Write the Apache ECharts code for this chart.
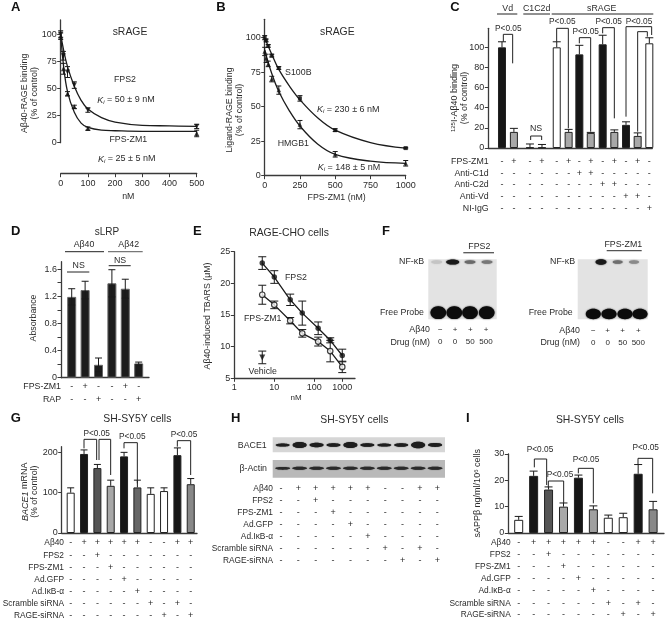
<!DOCTYPE html>
<html><head><meta charset="utf-8">
<style>html,body{margin:0;padding:0;background:#fff}#c{width:665px;height:627px;filter:blur(0.35px)}</style>
<script src="https://cdn.jsdelivr.net/npm/echarts@6/dist/echarts.min.js"></script>
</head><body><div id="c"></div>
<script>
/* ---------- data ---------- */
// A
const aX = [0, 10, 25, 50, 100, 500];
const aFps2 = [100, 80, 65, 53, 30, 15];
const aFps2Err = [3, 4, 5, 3, 2, 2];
const aZm1 = [98, 68, 45, 33, 13, 8.5];
const aZm1Err = [3, 5, 2, 1.5, 1.5, 3];
const aFps2CurveX = [0, 10, 25, 50, 75, 100, 150, 200, 300, 400, 500];
const aFps2CurveY = [100, 86, 70, 52, 39, 31, 23, 19, 16, 15.5, 15];
const aZm1CurveX = [0, 10, 25, 50, 75, 100, 150, 200, 300, 500];
const aZm1CurveY = [100, 72, 47, 28, 18, 14, 11.5, 11, 10.5, 10.5];
// B
const bX = [0, 10, 25, 50, 100, 250, 500, 1000];
const bS100 = [100, 98, 94, 87, 78, 56, 33, 20];
const bS100Err = [1.5, 1, 1, 1, 1, 2, 1, 0.5];
const bHmgb = [90, 85, 81, 70, 62, 37, 15.5, 9];
const bHmgbErr = [3, 3, 2, 2, 3, 3, 2, 2];
const bS100CurveX = [0, 50, 100, 175, 250, 375, 500, 750, 1000];
const bS100CurveY = [100, 88, 77, 65, 55, 42, 33, 24, 20];
const bHmgbCurveX = [0, 50, 100, 175, 250, 375, 500, 750, 1000];
const bHmgbCurveY = [91, 74, 61, 47, 36, 23, 15.5, 10.5, 9];
// C
const cSlots = [0, 1, 2.35, 3.36, 4.6, 5.6, 6.5, 7.46, 8.46, 9.44, 10.42, 11.4, 12.38];
const cVals = [100, 16, 0.5, 0.5, 100, 16, 93, 15, 103, 16, 23, 12, 104];
const cErr = [5.5, 3.5, 3.5, 3, 5.5, 2.5, 9, 0.5, 9, 2, 3, 3, 5.5];
const cKinds = ['k', 'g', 'k', 'k', 'w', 'g', 'k', 'g', 'k', 'g', 'k', 'g', 'w'];
const cRowLabels = ['FPS-ZM1', 'Anti-C1d', 'Anti-C2d', 'Anti-Vd', 'NI-IgG'];
const cRows = ['-+-+-+-+-+-+-', '------++-----', '--------++---', '----------++-', '------------+'];
// D
const dVals = [1.19, 1.29, 0.19, 1.39, 1.31, 0.21];
const dErr = [0.12, 0.13, 0.1, 0.2, 0.14, 0.02];
const dRowLabels = ['FPS-ZM1', 'RAP'];
const dRows = ['-+--+-', '--+--+'];
// E
const eX = [5, 10, 25, 50, 125, 250, 500];
const eFps2 = [23.2, 21, 17.4, 15.3, 12.9, 11, 8.6];
const eFps2Err = [1, 1, 0.9, 1.9, 1, 0.4, 1];
const eZm1 = [18.2, 16.6, 14.1, 12.1, 10.8, 9.3, 6.8];
const eZm1Err = [1.5, 0.6, 0.5, 0.6, 0.7, 1.7, 0.9];
const eVehicleX = [5];
const eVehicle = [8.3];
const eVehicleErr = [1];
const eTicks = [1, 10, 100, 500];
const eTickLabels = ['1', '10', '100', '1000'];
// G, H, I sign table
const siLabels = ['A\u03b240', 'FPS2', 'FPS-ZM1', 'Ad.GFP', 'Ad.I\u03baB-\u03b1', 'Scramble siRNA', 'RAGE-siRNA'];
const siRows = ['-+++++--++', '--+-------', '---+------', '----+-----', '-----+----', '------+-+-', '-------+-+'];
// G
const gVals = [100, 196, 161, 117, 190, 113, 97, 104, 193, 121];
const gErr = [12, 10, 9, 14, 10, 18, 15, 8, 18, 14];
const gFill = ['#ffffff', '#161616', '#555555', '#a8a8a8', '#161616', '#666666', '#ffffff', '#ffffff', '#161616', '#888888'];
// I
const iVals = [5, 21.7, 16.5, 10, 21, 9, 5.8, 6, 22.5, 9];
const iErr = [1.3, 1.8, 1, 1.4, 1, 1.3, 1, 1.5, 3.5, 3];
const iFill = ['#ffffff', '#161616', '#555555', '#a8a8a8', '#161616', '#a0a0a0', '#ffffff', '#ffffff', '#161616', '#888888'];
// H and F band strengths (half-height of each band, and tone)
const hBace = [1.6, 3, 2.2, 1.8, 3, 1.8, 1.6, 1.8, 3.2, 1.9];
const hActin = [1.4, 1.5, 1.5, 1.5, 1.5, 1.5, 1.5, 1.5, 1.5, 1.5];
const fLeftTone = ['#c4c4c4', '#1a1a1a', '#6a6a6a', '#777777'];
const fRightTone = ['#1a1a1a', '#6e6e6e', '#8a8a8a'];

/* ---------- shared style ---------- */
const ink = '#2b2b2b', axisInk = '#3a3a3a', FF = '"Liberation Sans"';
const plain = v => String(v);
const axisBase = (o) => Object.assign({
  type: 'value', scale: false, splitLine: { show: false },
  axisLine: { show: true, onZero: false, lineStyle: { color: axisInk, width: 1.3 } },
  axisTick: { show: true, length: 3.5, lineStyle: { color: axisInk, width: 1 } },
  axisLabel: { show: true, fontFamily: FF, fontSize: 9, color: ink, margin: 3, formatter: plain }
}, o);
const flatX = (min, max) => axisBase({ min, max, axisTick: { show: false }, axisLabel: { show: false } });
const yTicks = (min, max, values, extra) => {
  const y = axisBase({ min, max });
  y.axisTick = Object.assign({}, y.axisTick, { customValues: values });
  y.axisLabel = Object.assign({}, y.axisLabel, { customValues: values, margin: 4 });
  return Object.assign(y, extra || {});
};

const grids = [
  { left: 60.7, top: 20, width: 136, height: 122.7 },   // A
  { left: 264.7, top: 19.3, width: 141, height: 156.4 },// B
  { left: 488.3, top: 28.3, width: 164, height: 119.7 },// C
  { left: 61, top: 261.7, width: 88, height: 116 },     // D
  { left: 234.3, top: 251.7, width: 120.7, height: 126.6 }, // E
  { left: 61.7, top: 446.7, width: 135.3, height: 86.3 },   // G
  { left: 508.3, top: 454, width: 155.7, height: 79 }       // I
];
const [A, B, C, D, E, G, I] = [0, 1, 2, 3, 4, 5, 6];
const xLabel = { fontFamily: FF, fontSize: 9, color: ink, margin: 5, formatter: plain };

const xAxes = [
  axisBase({ gridIndex: A, min: 0, max: 500, interval: 100, offset: 31, axisLabel: xLabel }),
  axisBase({ gridIndex: B, min: 0, max: 1000, interval: 250, axisLabel: xLabel }),
  Object.assign(flatX(-1.151, 12.63), { gridIndex: C }),
  Object.assign(flatX(-0.8, 5.77), { gridIndex: D }),
  axisBase({ gridIndex: E, type: 'log', logBase: 10, min: 1, max: 1041,
    axisTick: { show: true, length: 3.5, customValues: eTicks, lineStyle: { color: axisInk } },
    axisLabel: { fontFamily: FF, fontSize: 9, color: ink, margin: 5, customValues: eTicks,
      formatter: v => eTickLabels[eTicks.indexOf(Math.round(v))] || '' } }),
  Object.assign(flatX(-0.675, 9.47), { gridIndex: G }),
  Object.assign(flatX(-0.696, 9.73), { gridIndex: I })
];
const yAxes = [
  yTicks(0, 112.9, [0, 25, 50, 75, 100], { gridIndex: A }),
  yTicks(0, 113.3, [0, 25, 50, 75, 100], { gridIndex: B }),
  yTicks(0, 118.9, [0, 20, 40, 60, 80, 100], { gridIndex: C }),
  yTicks(0, 1.708, [0, 0.2, 0.4, 0.6, 0.8, 1, 1.2, 1.4, 1.6], { gridIndex: D }),
  yTicks(5, 25, [5, 10, 15, 20, 25], { gridIndex: E }),
  yTicks(0, 214, [0, 100, 200], { gridIndex: G }),
  yTicks(0, 30, [0, 10, 20, 30], { gridIndex: I })
];
yAxes[D].axisLabel.customValues = [0, 0.4, 0.8, 1.2, 1.6];

/* ---------- series builders ---------- */
const zip = (xs, ys) => xs.map((x, i) => [x, ys[i]]);
const curve = (ix, xs, ys, smooth) => ({
  type: 'line', xAxisIndex: ix, yAxisIndex: ix, data: zip(xs, ys), smooth: smooth ? 0.4 : false,
  showSymbol: false, silent: true, clip: false, lineStyle: { color: '#1c1c1c', width: 1.3 }, z: 3
});
const pts = (ix, xs, ys, symbol, size, open, rotate) => ({
  type: 'scatter', xAxisIndex: ix, yAxisIndex: ix, data: zip(xs, ys), symbol, symbolSize: size,
  symbolRotate: rotate || 0, silent: true, clip: false,
  itemStyle: open ? { color: '#fff', borderColor: '#111', borderWidth: 1.2 } : { color: '#111' }, z: 5
});
const errs = (ix, xs, ys, err, cap, both) => ({
  type: 'custom', xAxisIndex: ix, yAxisIndex: ix, silent: true, clip: false, z: 4,
  data: xs.map((x, i) => [x, ys[i], err[i]]), encode: { x: 0, y: 1 },
  renderItem: (p, api) => {
    const x = api.value(0), y = api.value(1), e = api.value(2);
    const t = api.coord([x, y + e]), b = api.coord([x, both ? y - e : y]);
    const st = { stroke: '#1a1a1a', lineWidth: 1, fill: null };
    const line = (x1, y1, x2, y2) => ({ type: 'line', shape: { x1, y1, x2, y2 }, style: st });
    const kids = [line(t[0], t[1], b[0], b[1]), line(t[0] - cap, t[1], t[0] + cap, t[1])];
    if (both) kids.push(line(b[0] - cap, b[1], b[0] + cap, b[1]));
    return { type: 'group', children: kids };
  }
});
const bars = (ix, xs, ys, fills, w, border) => ({
  type: 'bar', xAxisIndex: ix, yAxisIndex: ix, barWidth: w, silent: true, z: 2,
  data: xs.map((x, i) => ({ value: [x, ys[i]], itemStyle: { color: fills[i], borderColor: border || '#222', borderWidth: 1 } }))
});
const kindColor = { k: '#161616', g: '#a8a8a8', w: '#ffffff' };
const slots10 = gVals.map((_, i) => i);
const dSlots = dVals.map((_, i) => i);

const series = [
  curve(A, aFps2CurveX, aFps2CurveY, true), curve(A, aZm1CurveX, aZm1CurveY, true),
  errs(A, aX, aFps2, aFps2Err, 2.5, true), errs(A, aX, aZm1, aZm1Err, 2.5, true),
  pts(A, aX, aFps2, 'triangle', 5, false, 180), pts(A, aX, aZm1, 'triangle', 5),

  curve(B, bS100CurveX, bS100CurveY, true), curve(B, bHmgbCurveX, bHmgbCurveY, true),
  errs(B, bX, bS100, bS100Err, 2.5, true), errs(B, bX, bHmgb, bHmgbErr, 2.5, true),
  pts(B, bX, bS100, 'rect', 4), pts(B, bX, bHmgb, 'triangle', 4.5),

  bars(C, cSlots, cVals, cKinds.map(k => kindColor[k]), 8),
  errs(C, cSlots, cVals, cErr, 4, false),

  bars(D, dSlots, dVals, dVals.map(() => '#1c1c1c'), 9, '#666666'),
  errs(D, dSlots, dVals, dErr, 3.5, true),

  curve(E, eX, eFps2, false), curve(E, eX, eZm1, false),
  errs(E, eX, eFps2, eFps2Err, 4, true), errs(E, eX, eZm1, eZm1Err, 4, true),
  errs(E, eVehicleX, eVehicle, eVehicleErr, 4, true),
  pts(E, eX, eFps2, 'circle', 5.5), pts(E, eX, eZm1, 'circle', 5.5, true),
  pts(E, eVehicleX, eVehicle, 'triangle', 6, false, 180),

  bars(G, slots10, gVals, gFill, 8),
  errs(G, slots10, gVals, gErr, 3.5, false),

  bars(I, slots10, iVals, iFill, 9),
  errs(I, slots10, iVals, iErr, 4, false)
];

const chart = echarts.init(document.getElementById('c'), null, { renderer: 'canvas' });
chart.setOption({ animation: false, backgroundColor: '#ffffff', grid: grids, xAxis: xAxes, yAxis: yAxes, series });

/* ---------- annotations ---------- */
const g = [];
const T = (x, y, text, o) => {
  o = o || {};
  const st = {
    text, fill: o.fill || ink,
    font: `${o.italic ? 'italic ' : ''}${o.bold ? 'bold ' : ''}${o.size || 8.8}px ${FF}`,
    align: o.align || 'center', verticalAlign: 'middle',
    textAlign: o.align || 'center', textVerticalAlign: 'middle'
  };
  if (o.rich) st.rich = o.rich;
  g.push({ type: 'text', x, y, rotation: o.rot || 0, silent: true, z: 20, style: st });
};
const L = (points, o) => {
  o = o || {};
  g.push({ type: 'polyline', silent: true, z: 19, shape: { points },
    style: { stroke: o.color || '#222', lineWidth: o.width || 1, fill: null } });
};
const R90 = Math.PI / 2;
const base = { fontFamily: FF, fill: ink };
const richKi = (size) => ({
  i: Object.assign({}, base, { fontSize: size, fontStyle: 'italic' }),
  s: Object.assign({}, base, { fontSize: size - 3, fontStyle: 'italic', padding: [4, 0, 0, 0] }),
  n: Object.assign({}, base, { fontSize: size })
});
const kiText = t => `{i|K}{s|i}{n| = ${t}}`;
const xPix = (ix, v) => chart.convertToPixel({ xAxisIndex: ix }, v);
const P = 'P<0.05', PS = 8.3, TS = 8.35;

// sign table: one column per bar, reading the columns from the chart's own x axis
function table(ix, slots, labels, rows, labelRight, rowY, size) {
  labels.forEach((lab, r) => {
    T(labelRight, rowY[r], lab, { align: 'right', size });
    rows[r].split('').forEach((m, c) => T(xPix(ix, slots[c]), rowY[r], m, { size: 9 }));
  });
}

// Panel letters
[['A', 15.7, 7.5], ['B', 221, 7.5], ['C', 455, 7.5], ['D', 15.7, 231.7], ['E', 197.3, 231.7], ['F', 386, 231.7],
 ['G', 15.7, 418.3], ['H', 235.7, 418.3], ['I', 467.7, 418.3]].forEach(p => T(p[1], p[2], p[0], { bold: true, size: 13, fill: '#111' }));

// A
T(130, 32, 'sRAGE', { size: 10.4 });
T(125, 80, 'FPS2'); T(128.3, 140, 'FPS-ZM1');
T(126, 100, kiText('50 \u00b1 9 nM'), { rich: richKi(9) });
T(126.7, 159, kiText('25 \u00b1 5 nM'), { rich: richKi(9) });
T(24.3, 93.3, 'A\u03b240-RAGE binding', { rot: R90 });
T(34.3, 93.3, '(% of control)', { rot: R90 });
T(128.3, 196.7, 'nM');

// B
T(337.3, 32, 'sRAGE', { size: 10.4 });
T(298.3, 72.7, 'S100B'); T(293.3, 143.3, 'HMGB1');
T(348.3, 109.3, kiText('230 \u00b1 6 nM'), { rich: richKi(9) });
T(349, 167.3, kiText('148 \u00b1 5 nM'), { rich: richKi(9) });
T(230, 110, 'Ligand-RAGE binding', { rot: R90 });
T(240, 110, '(% of control)', { rot: R90 });
T(336.7, 197.3, 'FPS-ZM1 (nM)');

// C
T(507.7, 8.5, 'Vd'); L([[497, 14], [517.3, 14]]);
T(536.7, 8.5, 'C1C2d'); L([[523.3, 14], [550, 14]]);
T(601.7, 8.5, 'sRAGE'); L([[551.7, 14], [653.3, 14]]);
T(455, 98, '{s|125}{n|I-A\u03b240 binding}', { rot: R90, rich: { s: Object.assign({}, base, { fontSize: 6, padding: [0, 0, 3, 0] }), n: Object.assign({}, base, { fontSize: 9 }) } });
T(465, 98, '(% of control)', { rot: R90 });
const zC = pts => pts.map(p => [440 + p[0] / 3, p[1] / 3]);
[[205, 87], [367, 65], [437, 95], [506, 65], [597, 65]].forEach(p => T(440 + p[0] / 3, p[1] / 3, P, { size: PS }));
T(440 + 288 / 3, 385 / 3, 'NS');
[[[190, 125], [190, 103], [218, 103], [218, 190]],
 [[272, 420], [272, 408], [305, 408], [305, 420]],
 [[350, 125], [350, 85], [385, 85], [385, 385]],
 [[418, 130], [418, 113], [452, 113], [452, 395]],
 [[488, 100], [488, 83], [523, 83], [523, 355]],
 [[558, 350], [558, 80], [635, 80], [635, 105]],
 [[593, 395], [593, 95], [622, 95], [622, 110]]].forEach(b => L(zC(b)));
table(C, cSlots, cRowLabels, cRows, 488.7, [161.3, 173.3, 184.7, 196.7, 209]);

// D
T(107, 232.7, 'sLRP', { size: 10 });
T(84, 245, 'A\u03b240'); L([[65, 251.7], [104, 251.7]]);
T(128.7, 245, 'A\u03b242'); L([[108, 251.7], [142.7, 251.7]], { color: '#777', width: 1.3 });
T(78.7, 265.7, 'NS'); L([[67, 272], [89.3, 272]]);
T(120, 260.7, 'NS'); L([[108.7, 265.7], [130.7, 265.7]]);
T(34, 318, 'Absorbance', { rot: R90 });
table(D, dSlots, dRowLabels, dRows, 61, [387, 400]);

// E
T(289, 232.7, 'RAGE-CHO cells', { size: 10.4 });
T(208, 316, 'A\u03b240-induced TBARS (\u03bcM)', { rot: R90 });
T(296, 278, 'FPS2'); T(262.7, 319, 'FPS-ZM1'); T(262.7, 371.7, 'Vehicle');
T(296, 398, 'nM', { size: 8 });

// F blots
function blot(x1, x2, y1, y2) {
  g.push({ type: 'rect', silent: true, z: 10, shape: { x: x1, y: y1, width: x2 - x1, height: y2 - y1 },
    style: { fill: '#e3e3e3' } });
}
function band(cx, cy, rx, ry, color, blur) {
  g.push({ type: 'ellipse', silent: true, z: 11, shape: { cx, cy, rx, ry },
    style: { fill: color, shadowBlur: blur === undefined ? 1.5 : blur, shadowColor: color } });
}
blot(428.3, 496.7, 259.3, 319.3);
blot(577.7, 647.7, 259.3, 319.3);
[436.7, 452.7, 470, 487].forEach((x, i) => band(x, 262, i === 1 ? 6.5 : 5.5, i === 1 ? 2.6 : 1.8, fLeftTone[i]));
[601, 617.7, 634].forEach((x, i) => band(x, 262, i === 0 ? 5.5 : 5, i === 0 ? 2.8 : 1.8, fRightTone[i]));
[438.3, 454.3, 470, 486.7].forEach(x => band(x, 312.7, 7.8, 6.4, '#0c0c0c'));
[593.3, 609, 625, 640].forEach(x => band(x, 314, 7.5, 5.2, '#0c0c0c'));
T(424, 261.7, 'NF-\u03baB', { align: 'right' }); T(424, 312.3, 'Free Probe', { align: 'right' });
T(430, 330, 'A\u03b240', { align: 'right' }); T(430, 343, 'Drug (nM)', { align: 'right' });
[440.3, 455, 470.3, 486].forEach((x, i) => { T(x, 330, ['\u2212', '+', '+', '+'][i], { size: 8 }); T(x, 342, ['0', '0', '50', '500'][i], { size: 8 }); });
T(479.3, 246.7, 'FPS2'); L([[463.3, 252.7], [494, 252.7]], { color: '#555', width: 1.3 });
T(623.3, 245, 'FPS-ZM1'); L([[606.7, 250.7], [641.7, 250.7]], { color: '#555', width: 1.3 });
T(575, 261.7, 'NF-\u03baB', { align: 'right' }); T(572.7, 312.7, 'Free Probe', { align: 'right' });
T(580, 330.7, 'A\u03b240', { align: 'right' }); T(580, 342.7, 'Drug (nM)', { align: 'right' });
[593.3, 607.7, 622.7, 638.3].forEach((x, i) => { T(x, 331, ['\u2212', '+', '+', '+'][i], { size: 8 }); T(x, 343, ['0', '0', '50', '500'][i], { size: 8 }); });

// G
T(137.3, 419.3, 'SH-SY5Y cells', { size: 10.4 });
T(25, 491.7, '{i|BACE1}{n| mRNA}', { rot: R90, rich: richKi(9) });
T(35, 491.7, '(% of control)', { rot: R90 });
const zG = pts => pts.map(p => [p[0] / 3, 395 + p[1] / 3]);
[[290, 115], [397, 125], [552, 118]].forEach(p => T(p[0] / 3, 395 + p[1] / 3, P, { size: PS }));
[[[252, 160], [252, 133], [290, 133], [290, 195]],
 [[297, 195], [297, 133], [332, 133], [332, 240]],
 [[372, 160], [372, 143], [412, 143], [412, 265]],
 [[532, 155], [532, 137], [572, 137], [572, 240]]].forEach(b => L(zG(b)));
table(G, slots10, siLabels, siRows, 64, [543, 555.3, 567.3, 579.3, 591.7, 604, 616], TS);

// H
T(354.3, 420, 'SH-SY5Y cells', { size: 10.4 });
g.push({ type: 'rect', silent: true, z: 10, shape: { x: 272.7, y: 437.3, width: 172.3, height: 15 }, style: { fill: '#d6d6d6' } });
g.push({ type: 'rect', silent: true, z: 10, shape: { x: 272.7, y: 460, width: 172.3, height: 17.7 }, style: { fill: '#b9b9b9' } });
hBace.forEach((h, i) => band(282.7 + i * 16.93, 445, 7, h, '#1e1e1e', 1));
hActin.forEach((h, i) => band(282.7 + i * 16.93, 468.3, 7.4, h, '#2a2a2a', 1));
T(266.7, 445.7, 'BACE1', { align: 'right' });
T(267, 469, '\u03b2-Actin', { align: 'right' });
const hRowY = [489, 500.7, 512.3, 524.3, 536.7, 549, 561];
siLabels.forEach((lab, r) => {
  T(273, hRowY[r], lab, { align: 'right', size: TS });
  siRows[r].split('').forEach((m, c) => T(281 + c * 17.37, hRowY[r], m, { size: 9 }));
});

// I
T(590, 420, 'SH-SY5Y cells', { size: 10.4 });
T(477.7, 493.3, '{n|sAPP\u03b2 ng/ml/10}{s|6}{n| cells}', { rot: R90, rich: { s: Object.assign({}, base, { fontSize: 6, padding: [0, 0, 3, 0] }), n: Object.assign({}, base, { fontSize: 9 }) } });
const zI = pts => pts.map(p => [440 + p[0] / 3, 395 + p[1] / 3]);
[[300, 165], [360, 238], [438, 193], [617, 158]].forEach(p => T(440 + p[0] / 3, 395 + p[1] / 3, P, { size: PS }));
[[[283, 217], [283, 192], [320, 192], [320, 270]],
 [[325, 278], [325, 258], [371, 258], [371, 325]],
 [[415, 235], [415, 220], [460, 220], [460, 325]],
 [[594, 207], [594, 190], [638, 190], [638, 295]]].forEach(b => L(zI(b)));
table(I, slots10, siLabels, siRows, 510.7, [543, 555, 567, 579, 591, 603.3, 615], TS);

chart.setOption({ graphic: { elements: g } });
</script></body></html>
